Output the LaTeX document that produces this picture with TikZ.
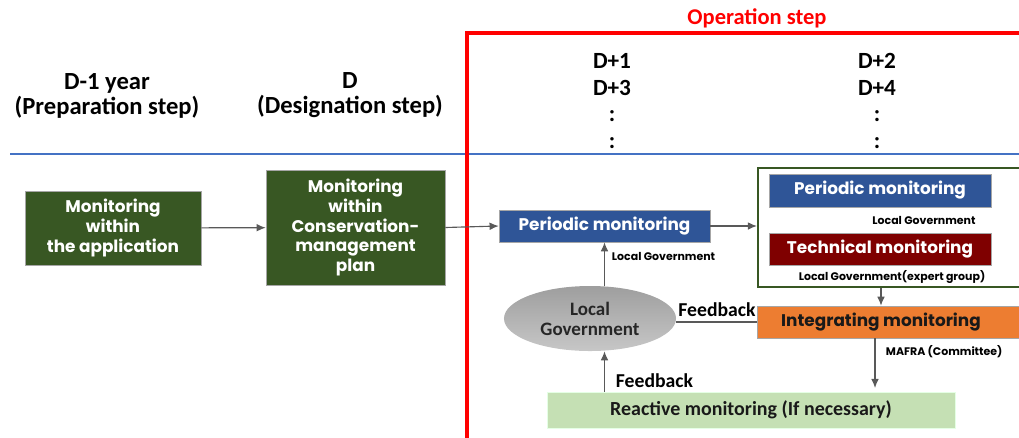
\documentclass[tikz,border=0pt]{standalone}
\usepackage{fontspec}
\setmainfont{Carlito}
\newfontfamily\boxfont{Poppins}
\usetikzlibrary{arrows.meta,shapes.geometric}
\definecolor{darkgreen}{HTML}{385723}
\definecolor{perblue}{HTML}{2F5597}
\definecolor{techred}{HTML}{7F0000}
\definecolor{integorange}{HTML}{ED7D31}
\definecolor{reactgreen}{HTML}{C5E0B4}
\definecolor{arrowgray}{HTML}{595959}
\definecolor{lineblue}{HTML}{4472C4}
\begin{document}
\begin{tikzpicture}
[x=0.025cm,y=-0.025cm]
\tikzset{head/.style={font=\bfseries\fontsize{17.5}{17.8}\selectfont,align=center}}
\tikzset{dhead/.style={font=\bfseries\fontsize{16.5}{19}\selectfont,align=center}}
\tikzset{gbox/.style={draw=gray!70,fill=darkgreen,text=white,align=center,inner sep=0pt,font=\boxfont\bfseries\fontsize{12}{14.2}\selectfont}}
\tikzset{mbox/.style={draw=gray!70,text=white,inner sep=0pt,font=\boxfont\bfseries\fontsize{12}{14}\selectfont}}
\tikzset{lab/.style={font=\boxfont\bfseries\fontsize{7.8}{9}\selectfont}}
\tikzset{fb/.style={font=\bfseries\fontsize{14}{16}\selectfont}}
\tikzset{arr/.style={draw=arrowgray,line width=0.8pt,-{Latex[length=6.5pt,width=5.5pt]}}}
\useasboundingbox (0,0) rectangle (1019,437);
% headings
\node [head] (prep) at (107,95.5) {D-1 year\\(Preparation step)};
\node [head] (desig) at (350,95.5) {D\\(Designation step)};
\node [dhead] (dodd) at (612,101) {D+1\\D+3\\:\\:};
\node [dhead] (deven) at (877,101) {D+2\\D+4\\:\\:};
\node [head,text=red,font=\bfseries\fontsize{16}{16}\selectfont] (op) at (757,18) {Operation step};
\draw [lineblue,line width=1.5pt] (10,154) -- (1019,154);
\draw [red,line width=2.2pt] (467,440) -- (467,33) -- (1025,33);
% before operation
\node [gbox,minimum width=4.4cm,minimum height=1.85cm] (app) at (113,228) {Monitoring\\within\\the application};
\node [gbox,minimum width=4.475cm,minimum height=2.875cm] (plan) at (355.5,227.5) {Monitoring\\within\\Conservation-\\management\\plan};
% operation
\node [mbox,fill=perblue,minimum width=5.275cm,minimum height=0.8cm] (per1) at (604.5,226) {Periodic monitoring};
\node [draw=darkgreen,line width=1.5pt,minimum width=6.675cm,minimum height=2.975cm] (grp) at (891.5,227.5) {};
\node [mbox,fill=perblue,minimum width=5.55cm,minimum height=0.825cm] (per2) at (880,190.5) {Periodic monitoring};
\node [lab] (lg2) at (924,220) {Local Government};
\node [mbox,fill=techred,minimum width=5.55cm,minimum height=0.8cm] (tech) at (880,249) {Technical monitoring};
\node [lab] (lg3) at (892,277) {Local Government(expert group)};
\node [mbox,fill=integorange,minimum width=6.825cm,minimum height=0.8cm] (integ) at (893.5,322) {};
\node [font=\boxfont\bfseries\fontsize{12}{14}\selectfont,text=black!90] (integtxt) at (881,322) {Integrating monitoring};
\node [ellipse,draw=none,top color=black!38,bottom color=black!22,minimum width=4.3cm,minimum height=1.625cm,align=center,font=\bfseries\fontsize{13.5}{14.2}\selectfont,text=black!85] (lg) at (590,318.5) {Local\\Government};
\node [lab,anchor=west] (lg1) at (607,256) {Local Government};
\node [draw=white!90!green,fill=reactgreen,minimum width=10.2cm,minimum height=0.9cm,font=\bfseries\fontsize{14.2}{16}\selectfont,text=black!90] (react) at (751,410) {Reactive monitoring (If necessary)};
\node [fb,anchor=west] (fb2) at (611,381) {Feedback};
\node [fb] (fb1) at (717,310) {Feedback};
\node [lab,anchor=west] (mafra) at (881,352) {MAFRA (Committee)};
\coordinate (mafraend) at (875,388);

\draw [arr] (app) -- (plan);
\draw [arr] (plan.east) -- (per1.west);
\draw [arr] (per1.east) -- (grp.west |- per1.east);
\draw [arr] (grp.south -| integtxt) -- (integ.north -| integtxt);
\draw [draw=arrowgray,line width=0.8pt] (integ.west) -- (integ.west -| lg.east);
\draw [arr] (lg.north -| per1.south) -- (per1.south);
\draw [arr] (react.north -| per1.south) -- (lg.south -| per1.south);
\draw [arr] (integ.south -| mafraend) -- (mafraend);
\end{tikzpicture}
\end{document}
